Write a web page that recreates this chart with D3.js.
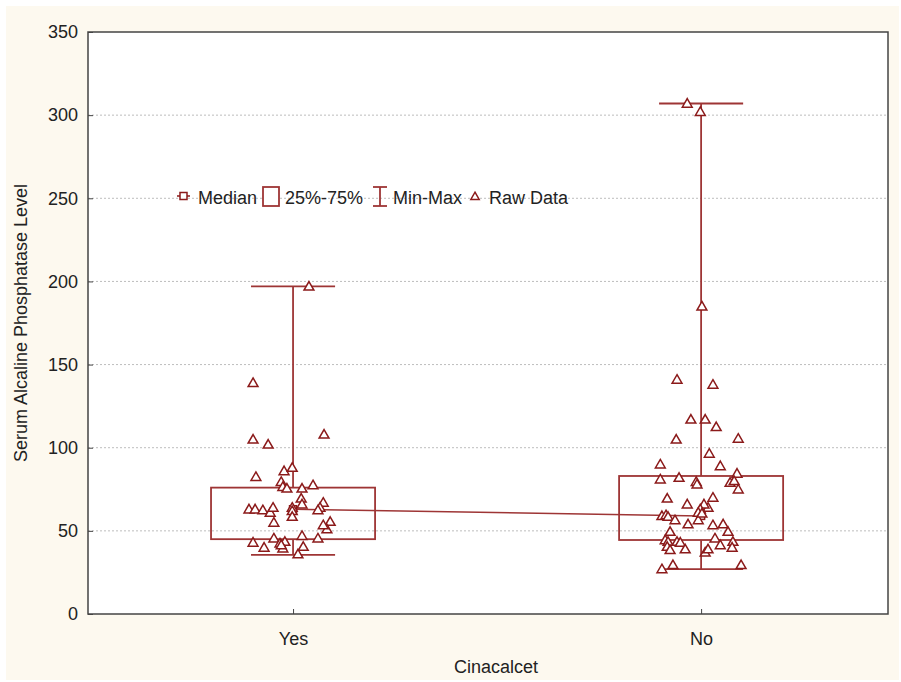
<!DOCTYPE html>
<html>
<head>
<meta charset="utf-8">
<script src="https://cdn.jsdelivr.net/npm/d3@7/dist/d3.min.js"></script>
<style>
  html, body { margin: 0; padding: 0; background: #ffffff; }
  svg { display: block; }
  text { font-family: "Liberation Sans", Arial, sans-serif; fill: #222; }
</style>
</head>
<body>
<svg id="chart" width="901" height="682"></svg>
<script>
// ---------- data ----------
const categories = ["Yes", "No"];
const yTicks = [0, 50, 100, 150, 200, 250, 300, 350];
const yTitle = "Serum Alcaline Phosphatase Level";
const xTitle = "Cinacalcet";
const legendLabels = ["Median", "25%-75%", "Min-Max", "Raw Data"];

// box statistics per category
const medians = [63, 59];
const q1s = [45, 44.5];
const q3s = [76, 83];
const mins = [35.5, 27];
const maxs = [197, 307];

// raw data (value) and horizontal jitter (in category units)
const yesValues = [197, 139, 105, 102, 108, 82.5, 86, 88, 79.5, 76.5, 75.5, 75.5, 77.5, 69.5, 66, 67, 64, 62.5,
  63, 63, 62.5, 61, 64, 64, 62, 58.5, 55, 55.5, 51, 53.5, 43, 40, 45.5, 42.5, 43.5, 39.5, 41.5, 47, 40.5, 45.5, 36];
const yesJitter = [0.039, -0.098, -0.098, -0.061, 0.076, -0.091, -0.022, -0.002, -0.029, -0.025, -0.015, 0.022, 0.049,
  0.020, 0.022, 0.074, 0.066, 0.061, -0.108, -0.093, -0.074, -0.056, -0.049, -0.002, -0.002, -0.002, -0.047, 0.091,
  0.083, 0.074, -0.098, -0.071, -0.047, -0.032, -0.020, -0.025, -0.029, 0.022, 0.025, 0.061, 0.012];
const noValues = [307, 302, 185, 141, 138, 117, 117, 112.5, 105, 105.5, 96.5, 90, 89, 84.5, 81, 82, 79.5, 78, 79, 80,
  75, 69.5, 66, 70, 64, 66, 63, 61, 59, 59.5, 58.5, 56.5, 54, 56.5, 60.5, 53.5, 54, 49.5, 45.5, 41.5, 43.5, 40,
  49.5, 44.5, 43.5, 40.5, 43.5, 43, 39, 38.5, 37, 39, 27, 29.5, 29.5];
const noJitter = [-0.034, -0.002, 0.002, -0.059, 0.029, -0.025, 0.010, 0.037, -0.061, 0.091, 0.020, -0.100, 0.047,
  0.088, -0.100, -0.054, -0.012, -0.010, 0.071, 0.081, 0.091, -0.083, -0.034, 0.029, 0.017, 0.007, -0.002, -0.007,
  -0.096, -0.086, -0.081, -0.064, -0.032, -0.007, 0.002, 0.029, 0.054, 0.066, 0.034, 0.047, 0.078, 0.076,
  -0.076, -0.088, -0.081, -0.083, -0.059, -0.051, -0.039, -0.076, 0.010, 0.017, -0.096, -0.069, 0.098];

// ---------- layout ----------
const svg = d3.select("#chart");
const plot = { left: 88, right: 888, top: 32, bottom: 614 };
const red = "#8b1a1a";
const boxRed = "#9e3535";

svg.append("rect").attr("x", 6).attr("y", 6).attr("width", 893).attr("height", 674).attr("fill", "#fdf9ef");
svg.append("rect").attr("x", plot.left).attr("y", plot.top)
  .attr("width", plot.right - plot.left).attr("height", plot.bottom - plot.top).attr("fill", "#ffffff");

const y = d3.scaleLinear().domain([0, 350]).range([plot.bottom, plot.top]);
// categories placed at positions 0 and 1
const x = d3.scaleLinear().domain([-0.5025, 1.458]).range([plot.left, plot.right]);
const step = x(1) - x(0);

// gridlines
svg.append("g").selectAll("line").data(yTicks.filter(d => d > 0 && d < 350)).join("line")
  .attr("x1", plot.left).attr("x2", plot.right)
  .attr("y1", d => y(d)).attr("y2", d => y(d))
  .attr("stroke", "#bdbdbd").attr("stroke-width", 1).attr("stroke-dasharray", "2,2");

// axes
const yAxis = d3.axisLeft(y).tickValues(yTicks).tickSize(-5).tickPadding(10).tickFormat(d3.format("d"));
const gy = svg.append("g").attr("transform", `translate(${plot.left},0)`).call(yAxis);
gy.select(".domain").remove();
gy.selectAll(".tick line").attr("stroke", "#444");
gy.selectAll(".tick text").attr("font-size", 18).attr("fill", "#222")
  .attr("font-family", "'Liberation Sans', Arial, sans-serif");

const xAxis = d3.axisBottom(x).tickValues([0, 1]).tickFormat(i => categories[i]).tickSize(-5).tickPadding(18);
const gx = svg.append("g").attr("transform", `translate(0,${plot.bottom})`).call(xAxis);
gx.select(".domain").remove();
gx.selectAll(".tick line").attr("stroke", "#444");
gx.selectAll(".tick text").attr("font-size", 18).attr("fill", "#222")
  .attr("font-family", "'Liberation Sans', Arial, sans-serif");

// frame
svg.append("rect").attr("x", plot.left).attr("y", plot.top)
  .attr("width", plot.right - plot.left).attr("height", plot.bottom - plot.top)
  .attr("fill", "none").attr("stroke", "#444").attr("stroke-width", 1.5);

// axis titles
svg.append("text").attr("x", 496).attr("y", 673).attr("text-anchor", "middle")
  .attr("font-size", 18).text(xTitle);
svg.append("text").attr("transform", `translate(27,${(plot.top + plot.bottom) / 2}) rotate(-90)`)
  .attr("text-anchor", "middle").attr("font-size", 18).text(yTitle);

// boxes
const boxW = 0.402 * step, capW = 0.206 * step;
const g = svg.append("g");
categories.forEach((c, i) => {
  const cx = x(i);
  g.append("rect").attr("x", cx - boxW / 2).attr("y", y(q3s[i]))
    .attr("width", boxW).attr("height", y(q1s[i]) - y(q3s[i]))
    .attr("fill", "none").attr("stroke", boxRed).attr("stroke-width", 1.8);
  g.append("line").attr("x1", cx).attr("x2", cx).attr("y1", y(q3s[i])).attr("y2", y(maxs[i]))
    .attr("stroke", boxRed).attr("stroke-width", 1.8);
  g.append("line").attr("x1", cx).attr("x2", cx).attr("y1", y(q1s[i])).attr("y2", y(mins[i]))
    .attr("stroke", boxRed).attr("stroke-width", 1.8);
  [maxs[i], mins[i]].forEach(v => {
    g.append("line").attr("x1", cx - capW / 2).attr("x2", cx + capW / 2).attr("y1", y(v)).attr("y2", y(v))
      .attr("stroke", boxRed).attr("stroke-width", 1.8);
  });
});
// median line and markers
g.append("path").datum(medians)
  .attr("d", d3.line().x((d, i) => x(i)).y(d => y(d)))
  .attr("fill", "none").attr("stroke", boxRed).attr("stroke-width", 1.5);
g.selectAll(".med").data(medians).join("rect")
  .attr("x", (d, i) => x(i) - 3.5).attr("y", d => y(d) - 3.5).attr("width", 7).attr("height", 7)
  .attr("fill", "#fff").attr("stroke", red).attr("stroke-width", 1.5);

// raw data triangles
const tri = d3.symbol().type(d3.symbolTriangle).size(42);
const pts = [];
yesValues.forEach((v, k) => pts.push({ i: 0, v, j: yesJitter[k] }));
noValues.forEach((v, k) => pts.push({ i: 1, v, j: noJitter[k] }));
g.selectAll(".pt").data(pts).join("path")
  .attr("d", tri)
  .attr("transform", d => `translate(${x(d.i + d.j)},${y(d.v) + 0.8})`)
  .attr("fill", "#fff").attr("stroke", red).attr("stroke-width", 1.5);

// legend
const lg = svg.append("g");
const ly = 198;
lg.append("line").attr("x1", 177).attr("x2", 190).attr("y1", ly - 2).attr("y2", ly - 2)
  .attr("stroke", red).attr("stroke-width", 1.5);
lg.append("rect").attr("x", 180).attr("y", ly - 5.5).attr("width", 7).attr("height", 7)
  .attr("fill", "#fff").attr("stroke", red).attr("stroke-width", 1.5);
lg.append("text").attr("x", 198).attr("y", ly + 6).attr("font-size", 18).text(legendLabels[0]);
lg.append("rect").attr("x", 263).attr("y", ly - 11).attr("width", 16).attr("height", 19)
  .attr("fill", "#fff").attr("stroke", boxRed).attr("stroke-width", 1.8);
lg.append("text").attr("x", 285).attr("y", ly + 6).attr("font-size", 18).text(legendLabels[1]);
lg.append("line").attr("x1", 380).attr("x2", 380).attr("y1", ly - 11).attr("y2", ly + 8)
  .attr("stroke", boxRed).attr("stroke-width", 1.8);
lg.append("line").attr("x1", 373).attr("x2", 387).attr("y1", ly - 11).attr("y2", ly - 11)
  .attr("stroke", boxRed).attr("stroke-width", 1.8);
lg.append("line").attr("x1", 373).attr("x2", 387).attr("y1", ly + 8).attr("y2", ly + 8)
  .attr("stroke", boxRed).attr("stroke-width", 1.8);
lg.append("text").attr("x", 393).attr("y", ly + 6).attr("font-size", 18).text(legendLabels[2]);
lg.append("path").attr("d", d3.symbol().type(d3.symbolTriangle).size(30))
  .attr("transform", `translate(475,${ly - 1})`)
  .attr("fill", "#fff").attr("stroke", red).attr("stroke-width", 1.5);
lg.append("text").attr("x", 489).attr("y", ly + 6).attr("font-size", 18).text(legendLabels[3]);
</script>
</body>
</html>
